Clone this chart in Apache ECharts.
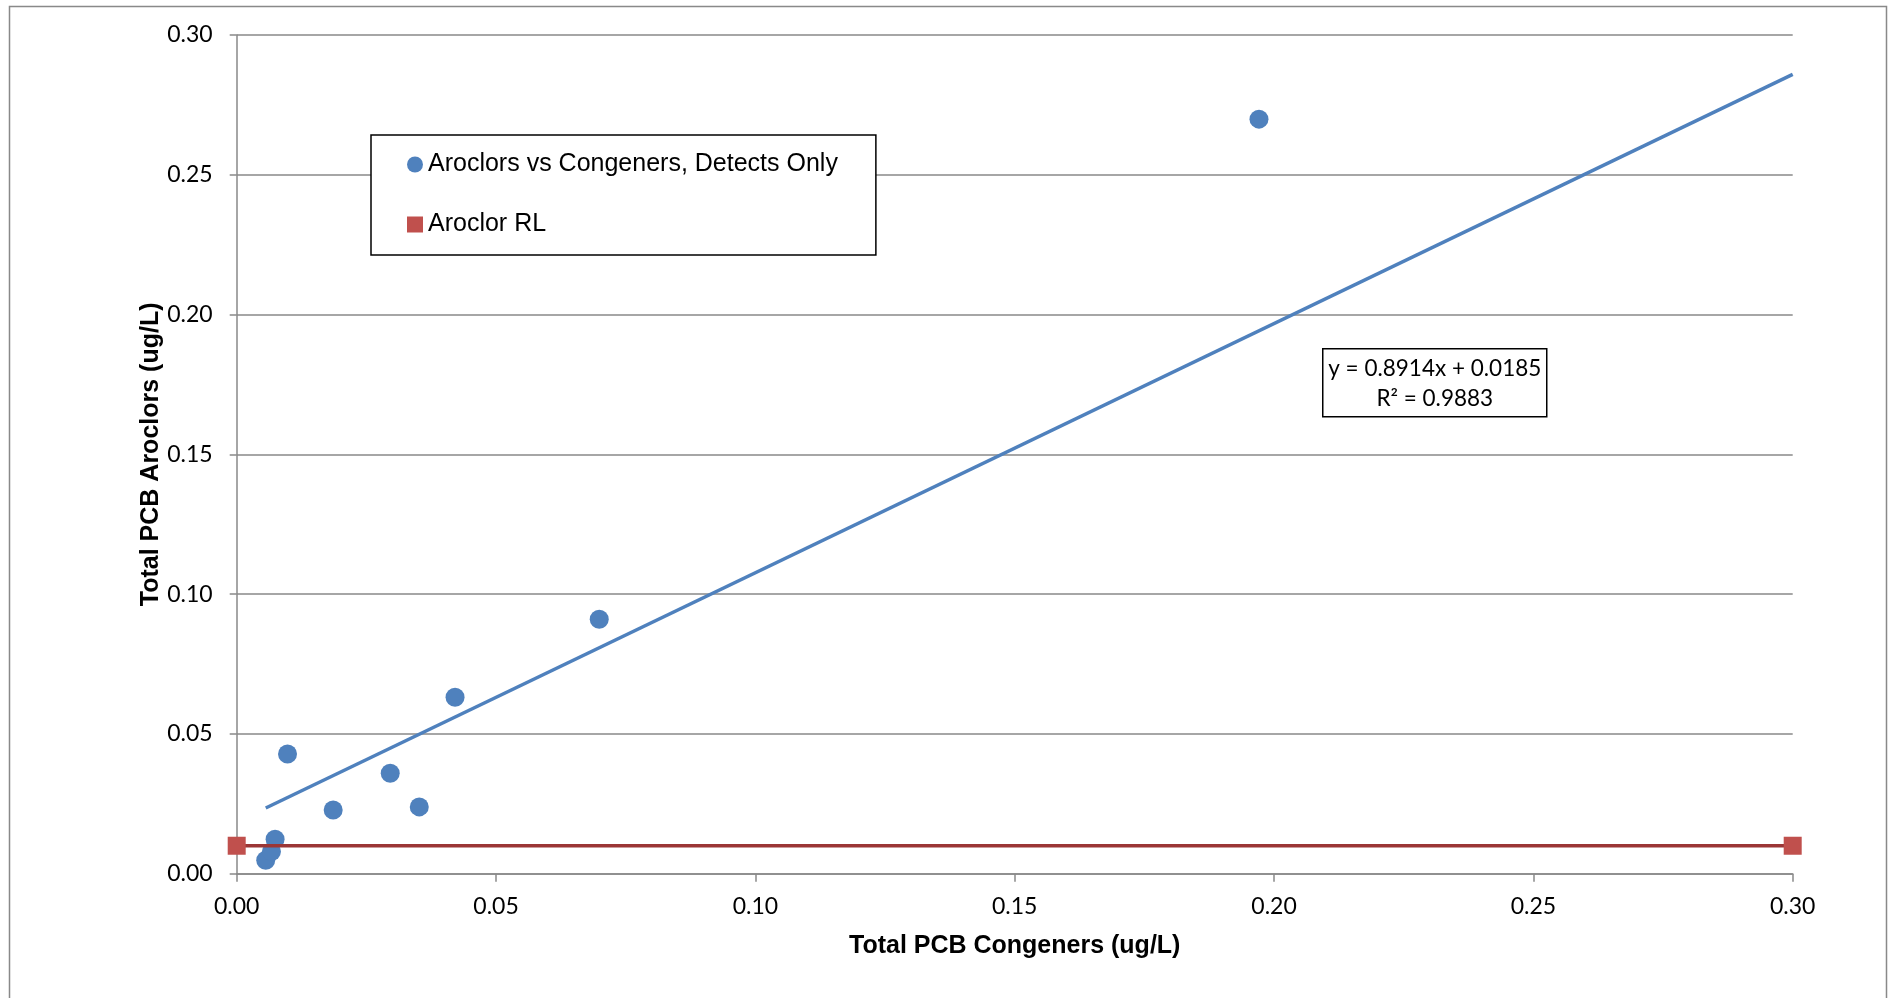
<!DOCTYPE html>
<html>
<head>
<meta charset="utf-8">
<script src="https://cdn.jsdelivr.net/npm/echarts@6/dist/echarts.min.js"></script>
<style>
html,body{margin:0;padding:0;background:#fff;}
#chart{width:1892px;height:998px;}
</style>
</head>
<body>
<div id="chart"></div>
<script>
// ---- data ----
const congenerX = [0.0056, 0.0067, 0.0074, 0.0098, 0.0186, 0.0296, 0.0352, 0.0421, 0.0699, 0.1971];
const aroclorY  = [0.0048, 0.0079, 0.0123, 0.0428, 0.0228, 0.0359, 0.0239, 0.0631, 0.0910, 0.2699];
const rlX = [0.00, 0.30];
const rlY = [0.01, 0.01];
const trendSlope = 0.8914;
const trendIntercept = 0.0185;
const trendR2 = 0.9883;
const trendXRange = [Math.min.apply(null, congenerX), 0.30];
const axisTicks = [0.00, 0.05, 0.10, 0.15, 0.20, 0.25, 0.30];
const seriesNames = ['Aroclors vs Congeners, Detects Only', 'Aroclor RL'];
const xTitle = 'Total PCB Congeners (ug/L)';
const yTitle = 'Total PCB Aroclors (ug/L)';

const scatterData = congenerX.map((x, i) => [x, aroclorY[i]]);
const rlData = rlX.map((x, i) => [x, rlY[i]]);
const trendData = trendXRange.map(x => [x, trendSlope * x + trendIntercept]);

const gray = '#898989';
const tickFont = 'Lato';
const chart = echarts.init(document.getElementById('chart'), null, {renderer: 'canvas'});
chart.setOption({
  animation: false,
  backgroundColor: '#fff',
  grid: {left: 236.7, right: 99.3, top: 35, bottom: 124.3, containLabel: false},
  xAxis: {
    type: 'value', min: axisTicks[0], max: axisTicks[axisTicks.length - 1], interval: 0.05,
    name: xTitle, nameLocation: 'middle', nameGap: 60, nameMoveOverlap: false,
    nameTextStyle: {fontFamily: 'Liberation Sans', fontWeight: 'bold', fontSize: 25, color: '#000'},
    axisLine: {show: true, onZero: false, lineStyle: {color: gray, width: 1.5}},
    axisTick: {show: true, inside: false, length: 8, lineStyle: {color: gray, width: 1.5}},
    axisLabel: {margin: 21, fontFamily: tickFont, fontSize: 23, color: '#000', formatter: v => v.toFixed(2)},
    splitLine: {show: false}
  },
  yAxis: {
    type: 'value', min: axisTicks[0], max: axisTicks[axisTicks.length - 1], interval: 0.05,
    name: yTitle, nameLocation: 'middle', nameGap: 73, nameRotate: 90, nameMoveOverlap: false,
    nameTextStyle: {fontFamily: 'Liberation Sans', fontWeight: 'bold', fontSize: 25, color: '#000'},
    axisLine: {show: true, onZero: false, lineStyle: {color: gray, width: 1.5}},
    axisTick: {show: true, inside: false, length: 7, lineStyle: {color: gray, width: 1.5}},
    axisLabel: {margin: 24, fontFamily: tickFont, fontSize: 23, color: '#000', formatter: v => v.toFixed(2)},
    splitLine: {show: true, lineStyle: {color: gray, width: 1.5}}
  },
  legend: {
    left: 371, top: 135,
    orient: 'vertical',
    padding: [17, 38, 18, 36],
    itemGap: 35,
    itemWidth: 16, itemHeight: 16,
    borderColor: '#000', borderWidth: 1.5,
    backgroundColor: '#fff',
    textStyle: {fontFamily: 'Liberation Sans', fontSize: 25, color: '#000', lineHeight: 25},
    data: [
      {name: seriesNames[0], icon: 'circle', itemStyle: {color: '#4f81bd'}},
      {name: seriesNames[1], icon: 'rect', itemStyle: {color: '#c0504d'}}
    ]
  },
  graphic: [
    {type: 'rect', left: 7, top: 4, shape: {width: 1877, height: 1010},
     style: {fill: 'none', stroke: gray, lineWidth: 1.5}, silent: true, z: -10},
    {type: 'group', left: 1322, top: 348, children: [
      {type: 'rect', shape: {x: 0, y: 0, width: 224, height: 68},
       style: {fill: '#fff', stroke: '#000', lineWidth: 1.5}},
      {type: 'text', x: 112, y: 20, style: {text: 'y = ' + trendSlope.toFixed(4) + 'x + ' + trendIntercept.toFixed(4),
        font: '22.5px Lato', fill: '#000', textAlign: 'center', textVerticalAlign: 'middle'}},
      {type: 'text', x: 112, y: 50, style: {text: 'R\u00b2 = ' + trendR2.toFixed(4),
        font: '22.5px Lato', fill: '#000', textAlign: 'center', textVerticalAlign: 'middle'}}
    ]}
  ],
  series: [
    {
      name: seriesNames[0], type: 'scatter', data: scatterData,
      symbol: 'circle', symbolSize: 19,
      itemStyle: {color: '#4f81bd', opacity: 1}, z: 3
    },
    {
      name: 'Trendline', type: 'line', data: trendData,
      showSymbol: false, symbol: 'none',
      lineStyle: {color: '#4f81bd', width: 3.5}, z: 2
    },
    {
      name: seriesNames[1], type: 'line', data: rlData,
      symbol: 'rect', symbolSize: 18, showSymbol: true,
      itemStyle: {color: '#c0504d'},
      lineStyle: {color: '#9b3636', width: 3.5}, z: 4
    }
  ]
});
</script>
</body>
</html>
